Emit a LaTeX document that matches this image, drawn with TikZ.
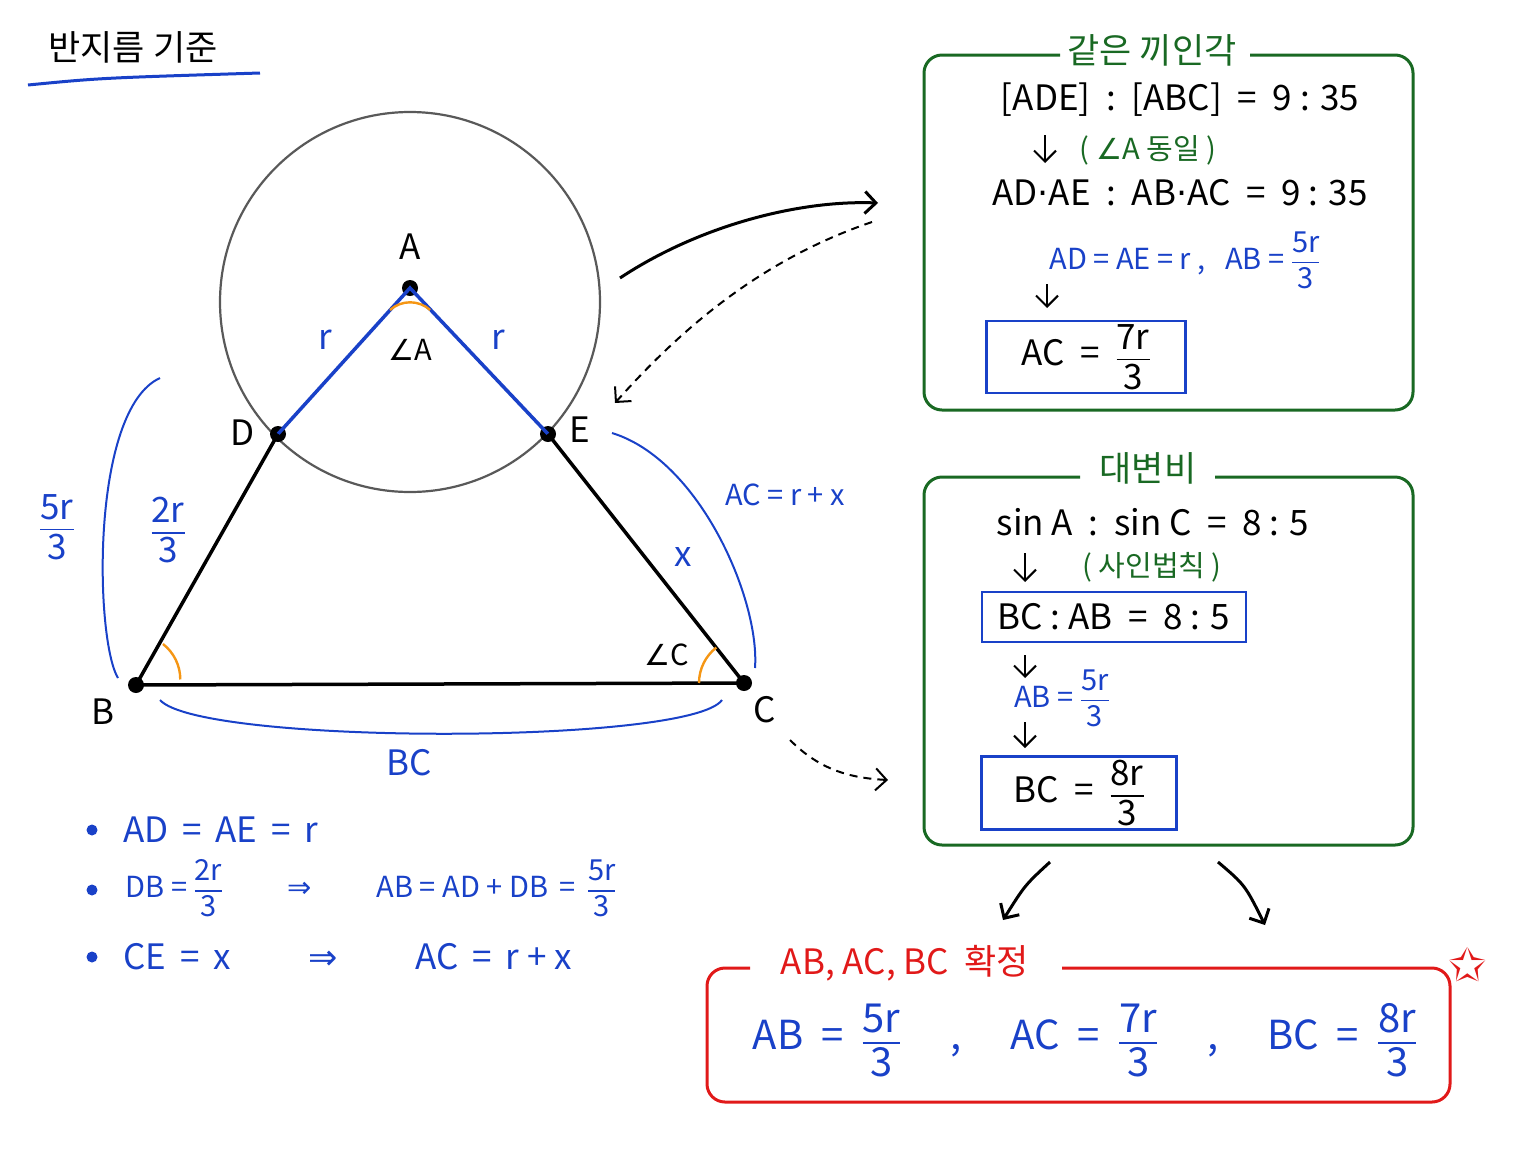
\documentclass[tikz,border=0pt]{standalone}
\usepackage{amsmath}
\usepackage{fontspec}
\setmainfont{Noto Sans CJK KR}
\newfontfamily\sym{DejaVu Sans}
\usetikzlibrary{arrows.meta}
\definecolor{bl}{RGB}{25,65,200}
\definecolor{gr}{RGB}{25,105,35}
\definecolor{rd}{RGB}{225,25,25}
\definecolor{og}{RGB}{245,150,20}
\newcommand{\fr}[2]{$\genfrac{}{}{1.2pt}{0}{\text{#1}}{\text{#2}}$}
\begin{document}
\begin{tikzpicture}[x=1pt,y=-1pt,
  t/.style={font=\fontsize{35}{38}\selectfont},
  s/.style={font=\fontsize{29}{32}\selectfont},
  gbox/.style={draw=gr,line width=3pt,rounded corners=18pt},
  bbox/.style={draw=bl,line width=2.5pt},
  pt/.style={circle,fill=black,inner sep=0pt,minimum size=16pt},
  ar/.style={-{Straight Barb[length=11pt]},line width=2pt},
  ]
\useasboundingbox (0,0) rectangle (1536,1152);
% title
\node[t] (ttl) at (133,47) {반지름 기준};
\draw[bl,line width=3pt] (28,85) .. controls (100,78) .. (260,73);
% circle and triangle
\coordinate (O) at (410,302);
\draw[gray!70!black,line width=2.2pt] (O) circle (190);
\node[pt] (A) at (410,288) {};
\node[pt] (D) at (278,434) {};
\node[pt] (E) at (548,434) {};
\node[pt] (B) at (136,685) {};
\node[pt] (C) at (744,683) {};
\draw[bl,line width=3.5pt] (D.center)--(A.center)--(E.center);
\draw[line width=3.5pt] (D.center)--(B.center)--(C.center)--(E.center);
\draw[og,line width=2.4pt] (390,310) arc (228:312:30);
\draw[og,line width=2.4pt] (163,644) arc (-52:0:45);
\draw[og,line width=2.4pt] (699,683) arc (180:232:45);
\node[t] (lA) at (410,247) {A};
\node[t] (lD) at (243,433) {D};
\node[t] (lE) at (580,430) {E};
\node[t] (lB) at (103,712) {B};
\node[t] (lC) at (765,710) {C};
\node[t,bl] (r1) at (325,340) {r};
\node[t,bl] (r2) at (498,340) {r};
\node[s] (aA) at (410,350) {{\sym∠}A};
\node[s] (aC) at (667,655) {{\sym∠}C};
\node[t,bl] (lx) at (683,557) {x};
\node[s,bl] (acl) at (785,495) {AC = r + x};
% braces
\draw[bl,line width=2pt] (160,378) .. controls (90,410) and (95,640) .. (118,678);
\node[t,bl] (f1) at (57,527) {\fr{5r}{3}};
\node[t,bl] (f2) at (168,530) {\fr{2r}{3}};
\draw[bl,line width=2pt] (612,433) .. controls (700,460) and (760,600) .. (755,668);
\draw[bl,line width=2pt] (160,700) .. controls (200,745) and (690,745) .. (722,700);
\node[t,bl] (lBC) at (409,763) {BC};
% bullets
\foreach \y in {830,890,957} \fill[bl] (92,\y) circle (5.5);
\node[t,bl,anchor=west] (b1) at (120,830) {AD \,=\, AE \,=\, r};
\node[s,bl,anchor=west] (b2) at (122,888) {DB = \fr{2r}{3} \qquad {\sym⇒} \qquad AB = AD + DB \,=\, \fr{5r}{3}};
\node[t,bl,anchor=west] (b3) at (120,957) {CE \,=\, x \qquad {\sym⇒} \qquad AC \,=\, r + x};
% box 1
\draw[gbox] (1060,55) -- (924,55) -- (924,410) -- (1413,410) -- (1413,55) -- (1250,55);
\node[t,gr] (g1) at (1152,50) {같은 끼인각};
\node[t] (e1) at (1180,100) {[ADE] ~:~ [ABC] ~=~ 9 : 35};
\node[s,gr] (e2) at (1148,150) {( {\sym∠}A 동일 )};
\node[t] (e3) at (1180,193) {AD{\sym·}AE ~:~ AB{\sym·}AC ~=~ 9 : 35};
\node[s,bl] (e4) at (1185,260) {AD = AE = r ,~~ AB = \fr{5r}{3}};
\node[t,bbox,minimum width=199pt,minimum height=69pt] (e5) at (1086,357) {AC ~=~ \fr{7r}{3}};
\coordinate (a1s) at (1045,135); \coordinate (a1e) at (1045,163);
\draw[ar] (a1s)--(a1e);
\coordinate (a2s) at (1047,284); \coordinate (a2e) at (1047,308);
\draw[ar] (a2s)--(a2e);
% box 2
\draw[gbox] (1080,477) -- (924,477) -- (924,845) -- (1413,845) -- (1413,477) -- (1215,477);
\node[t,gr] (g2) at (1148,468) {대변비};
\node[t] (h1) at (1153,522) {sin A ~:~ sin C ~=~ 8 : 5};
\node[s,gr] (h2) at (1152,567) {( 사인법칙 )};
\node[t,bbox,minimum width=264pt,minimum height=50pt] (h3) at (1114,617) {BC : AB ~=~ 8 : 5};
\node[s,bl] (h4) at (1062,698) {AB = \fr{5r}{3}};
\node[t,bbox,minimum width=195pt,minimum height=67pt] (h5) at (1079,793) {BC ~=~ \fr{8r}{3}};
\coordinate (b1s) at (1025,553); \coordinate (b1e) at (1025,582);
\coordinate (b2s) at (1025,655); \coordinate (b2e) at (1025,678);
\coordinate (b3s) at (1025,722); \coordinate (b3e) at (1025,748);
\draw[ar] (b1s)--(b1e); \draw[ar] (b2s)--(b2e); \draw[ar] (b3s)--(b3e);
% connectors
\coordinate (c1s) at (620,278); \coordinate (c1e) at (878,203);
\draw[ar,line width=3pt] (c1s) .. controls (700,225) and (800,200) .. (c1e);
\coordinate (c2s) at (872,222); \coordinate (c2e) at (615,403);
\draw[ar,dash pattern=on 8pt off 6pt] (c2s) .. controls (760,260) and (680,330) .. (c2e);
\coordinate (c3s) at (790,740); \coordinate (c3e) at (888,780);
\draw[ar,dash pattern=on 8pt off 6pt] (c3s) .. controls (820,770) and (850,778) .. (c3e);
\coordinate (d1s) at (1050,862); \coordinate (d1e) at (1003,920);
\coordinate (d2s) at (1218,862); \coordinate (d2e) at (1265,925);
\draw[ar,line width=3pt] (d1s) .. controls (1025,885) .. (d1e);
\draw[ar,line width=3pt] (d2s) .. controls (1245,885) .. (d2e);
% red box
\draw[draw=rd,line width=3pt,rounded corners=18pt] (750,968) -- (707,968) -- (707,1102) -- (1450,1102) -- (1450,968) -- (1062,968);
\node[t,rd] (rt) at (905,963) {AB, AC, BC\ \ 확정};
\node[font=\fontsize{46}{46}\selectfont,rd] (star) at (1468,965) {\sym✩};
\node[font=\fontsize{40}{44}\selectfont,bl] (res) at (1085,1040) {AB ~=~ \fr{5r}{3} \quad , \quad AC ~=~ \fr{7r}{3} \quad , \quad BC ~=~ \fr{8r}{3}};
\end{tikzpicture}
\end{document}
